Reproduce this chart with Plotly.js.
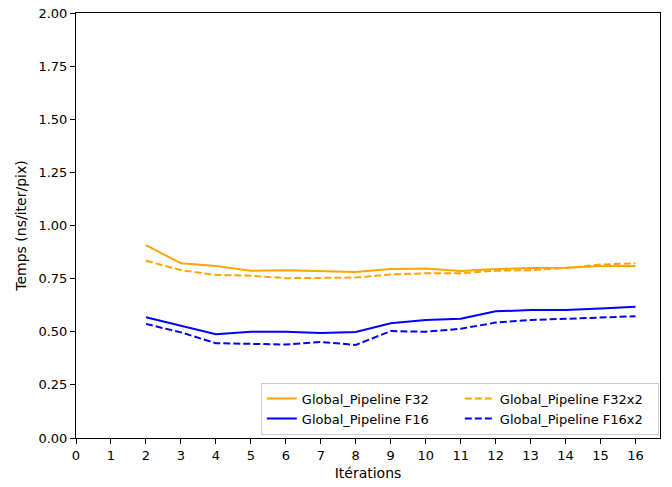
<!DOCTYPE html>
<html>
<head>
<meta charset="utf-8">
<script src="https://cdn.plot.ly/plotly-3.0.1.min.js"></script>
<style>html,body{margin:0;padding:0;background:#fff;}#chart{width:672px;height:487px;}</style>
</head>
<body>
<div id="chart"></div>
<script>
const iterations = [2, 3, 4, 5, 6, 7, 8, 9, 10, 11, 12, 13, 14, 15, 16];
const f32   = [0.908, 0.822, 0.809, 0.787, 0.790, 0.786, 0.781, 0.795, 0.798, 0.786, 0.795, 0.800, 0.801, 0.809, 0.809];
const f16   = [0.568, 0.527, 0.488, 0.500, 0.500, 0.494, 0.499, 0.540, 0.555, 0.561, 0.596, 0.602, 0.602, 0.610, 0.618];
const f32x2 = [0.834, 0.790, 0.767, 0.764, 0.752, 0.752, 0.755, 0.770, 0.775, 0.775, 0.787, 0.790, 0.800, 0.816, 0.822];
const f16x2 = [0.537, 0.497, 0.446, 0.444, 0.440, 0.452, 0.438, 0.503, 0.500, 0.514, 0.543, 0.555, 0.560, 0.566, 0.573];
const xTicks = [0,1,2,3,4,5,6,7,8,9,10,11,12,13,14,15,16];
const yTicks = [0, 0.25, 0.5, 0.75, 1.0, 1.25, 1.5, 1.75, 2.0];

const font = {family: 'DejaVu Sans', size: 13, color: '#000'};
const titleFont = {family: 'DejaVu Sans', size: 14, color: '#000'};
const traces = [
  {x: iterations, y: f32, name: 'Global_Pipeline F32', mode: 'lines', line: {color: '#FFA500', width: 2}},
  {x: iterations, y: f32x2, name: 'Global_Pipeline F32x2', mode: 'lines', line: {color: '#FFA500', width: 2, dash: '7px,3px'}},
  {x: iterations, y: f16, name: 'Global_Pipeline F16', mode: 'lines', line: {color: '#0000FF', width: 2}},
  {x: iterations, y: f16x2, name: 'Global_Pipeline F16x2', mode: 'lines', line: {color: '#0000FF', width: 2, dash: '7px,3px'}}
];
const layout = {
  width: 672, height: 487,
  margin: {l: 76, r: 12, t: 13, b: 49},
  paper_bgcolor: '#fff', plot_bgcolor: '#fff',
  font: font,
  showlegend: true,
  legend: {
    orientation: 'h', x: 0.998, xanchor: 'right', y: 0.008, yanchor: 'bottom',
    bordercolor: '#cccccc', borderwidth: 1, bgcolor: 'rgba(255,255,255,0.8)',
    entrywidth: 153, entrywidthmode: 'pixels', traceorder: 'normal',
    font: {family: 'DejaVu Sans', size: 13, color: '#000'},
    tracegroupgap: 0, itemwidth: 30
  },
  xaxis: {
    range: [0, 16.7], tickvals: xTicks, ticktext: xTicks.map(String),
    showline: true, mirror: true, linecolor: '#000', linewidth: 1,
    ticks: 'outside', ticklen: 5, tickcolor: '#000', showgrid: false, zeroline: false,
    title: {text: 'Itérations', font: titleFont, standoff: 6}
  },
  yaxis: {
    range: [0, 2], tickvals: yTicks, ticktext: yTicks.map(v => v.toFixed(2)),
    showline: true, mirror: true, linecolor: '#000', linewidth: 1,
    ticks: 'outside', ticklen: 5, tickcolor: '#000', showgrid: false, zeroline: false,
    title: {text: 'Temps (ns/iter/pix)', font: titleFont, standoff: 8}
  }
};
Plotly.newPlot('chart', traces, layout, {displayModeBar: false, staticPlot: true});
</script>
</body>
</html>
